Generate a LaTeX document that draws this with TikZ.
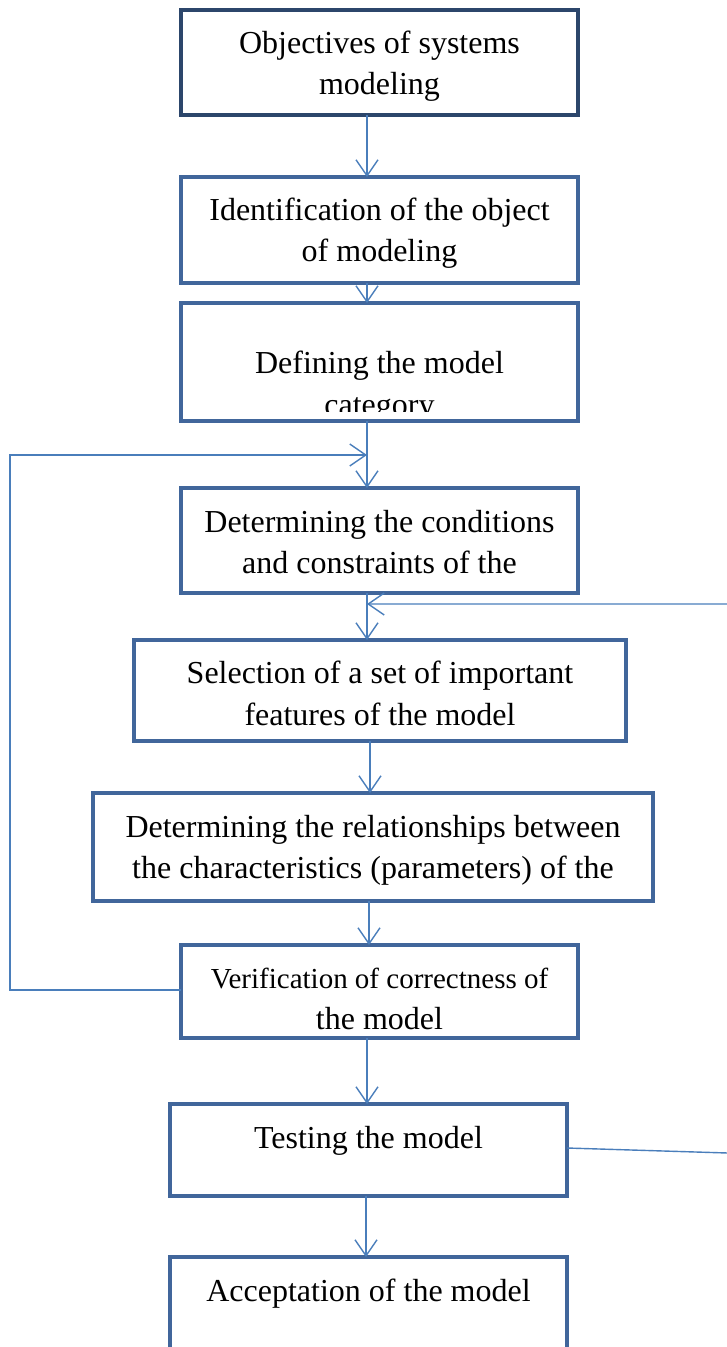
\documentclass[tikz,border=0pt]{standalone}
\usepackage{fontspec}
\setmainfont{Liberation Serif}
\usetikzlibrary{arrows.meta}
\definecolor{boxblue}{HTML}{41669B}
\definecolor{boxnavy}{HTML}{2C466B}
\definecolor{lineblue}{HTML}{4A7EBB}
\tikzset{
  box/.style={draw=boxblue, line width=3.2pt, fill=white, rectangle,
    inner sep=0pt, outer sep=0pt},
  txt/.style={anchor=base, inner sep=0pt, font=\fontsize{32}{40}\selectfont},
  smalltxt/.style={txt, font=\fontsize{29}{36}\selectfont},
  arr/.style={draw=lineblue, line width=1.4pt,
    -{Straight Barb[length=16pt, width=22pt, line width=1.4pt]}},
}
\begin{document}
\begin{tikzpicture}[x=1pt, y=-1pt]
\useasboundingbox (0,0) rectangle (727,1347);

% process boxes
\node[box, draw=boxnavy, minimum width=397, minimum height=105] (b1) at (379.5,62.5) {};
\node[box, minimum width=397, minimum height=106] (b2) at (379.5,230) {};
\node[box, minimum width=397, minimum height=118] (b3) at (379.5,362) {};
\node[box, minimum width=397, minimum height=105] (b4) at (379.5,540.5) {};
\node[box, minimum width=492, minimum height=101] (b5) at (380,690.5) {};
\node[box, minimum width=560, minimum height=108] (b6) at (373,847) {};
\node[box, minimum width=397, minimum height=93] (b7) at (379.5,991.5) {};
\node[box, minimum width=397, minimum height=92] (b8) at (368.5,1150) {};
\node[box, minimum width=397, minimum height=110] (b9) at (368.5,1312) {};

% box texts
\node[txt] (t1a) at (379.5,53) {Objectives of systems};
\node[txt] (t1b) at (379.5,94) {modeling};
\node[txt] (t2a) at (379.5,220) {Identification of the object};
\node[txt] (t2b) at (379.5,261) {of modeling};
\node[txt] (t3a) at (379.5,373) {Defining the model};
\begin{scope}
  \clip (183,305) rectangle (576,411);
  \node[txt] (t3b) at (379.5,415) {category};
\end{scope}
\node[txt] (t4a) at (379.5,532) {Determining the conditions};
\node[txt] (t4b) at (379.5,573) {and constraints of the};
\node[txt] (t5a) at (380,683) {Selection of a set of important};
\node[txt] (t5b) at (380,725) {features of the model};
\node[txt] (t6a) at (373,837) {Determining the relationships between};
\node[txt] (t6b) at (373,878) {the characteristics (parameters) of the};
\node[smalltxt] (t7a) at (379.5,988) {Verification of correctness of};
\node[txt] (t7b) at (379.5,1029) {the model};
\node[txt] (t8a) at (368.5,1148) {Testing the model};
\node[txt] (t9a) at (368.5,1301) {Acceptation of the model};

% columns of the vertical connectors
\coordinate (c367) at (367,0);
\coordinate (c370) at (370,0);
\coordinate (c369) at (369,0);
\coordinate (c366) at (366,0);

% junctions where the feedback loops rejoin the main flow
\coordinate (j34) at (367,455);
\coordinate (j45) at (367,604);

% main flow
\draw[arr] (b1.south -| c367) -- (b2.north -| c367);
\draw[arr] (b2.south -| c367) -- (b3.north -| c367);
\draw[arr] (b3.south -| c367) -- (b4.north -| c367);
\draw[arr] (b4.south -| c367) -- (b5.north -| c367);
\draw[arr] (b5.south -| c370) -- (b6.north -| c370);
\draw[arr] (b6.south -| c369) -- (b7.north -| c369);
\draw[arr] (b7.south -| c367) -- (b8.north -| c367);
\draw[arr] (b8.south -| c366) -- (b9.north -| c366);

% feedback loops
\coordinate (lc) at (10,990);
\coordinate (rc) at (760,1154);
\draw[arr] ([yshift=1.5pt]b7.west) -- (lc) |- (j34);
\draw[arr] ([yshift=2pt]b8.east) -- (rc) |- (j45);
\end{tikzpicture}
\end{document}
